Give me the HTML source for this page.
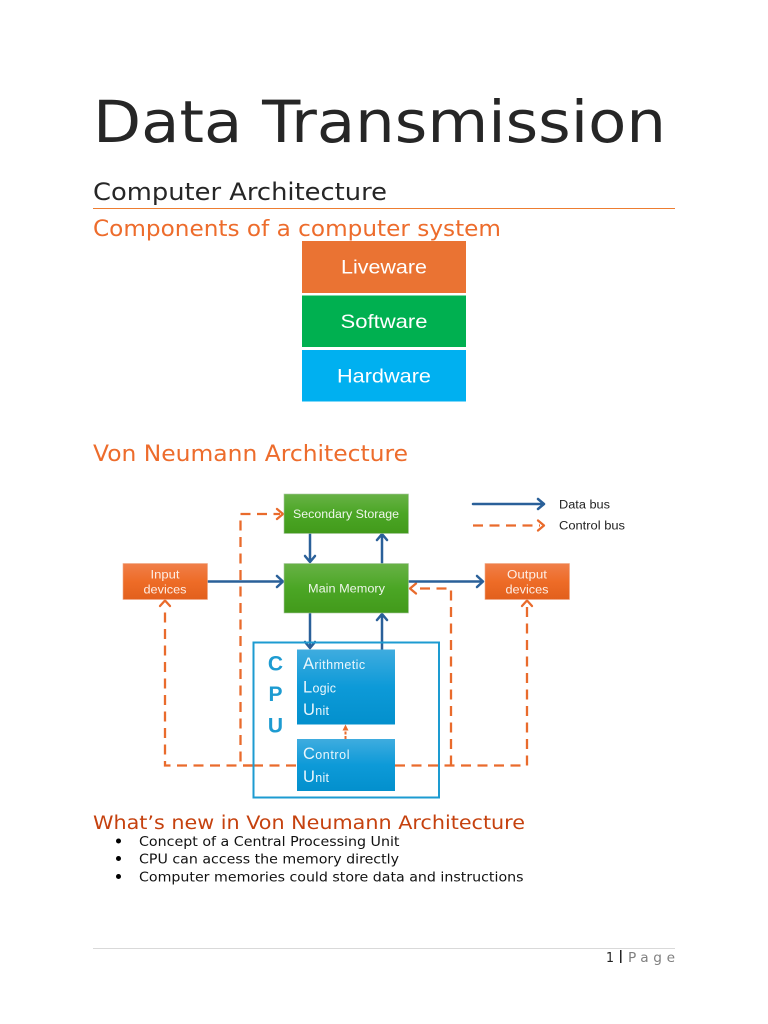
<!DOCTYPE html>
<html>
<head>
<meta charset="utf-8">
<title>Data Transmission</title>
<style>
html,body{margin:0;padding:0;background:#fff}
svg{display:block}
.d{font-family:"DejaVu Sans",sans-serif}
.l{font-family:"Liberation Sans",sans-serif}
</style>
</head>
<body>
<svg width="768" height="1024" viewBox="0 0 768 1024" xmlns="http://www.w3.org/2000/svg">
<defs>
<linearGradient id="g" x1="0" y1="0" x2="0" y2="1"><stop offset="0" stop-color="#68b246"/><stop offset=".5" stop-color="#4ba625"/><stop offset="1" stop-color="#429a1b"/></linearGradient>
<linearGradient id="o" x1="0" y1="0" x2="0" y2="1"><stop offset="0" stop-color="#f07f4a"/><stop offset=".5" stop-color="#ee6c27"/><stop offset="1" stop-color="#e2601d"/></linearGradient>
<linearGradient id="b" x1="0" y1="0" x2="0" y2="1"><stop offset="0" stop-color="#3facdf"/><stop offset=".5" stop-color="#0d9ad8"/><stop offset="1" stop-color="#0390cd"/></linearGradient>
</defs>

<text class="d" x="93" y="142" font-size="58" fill="#262626" textLength="573" lengthAdjust="spacingAndGlyphs">Data Transmission</text>
<text class="d" x="93" y="200" font-size="23.7" fill="#262626" textLength="294" lengthAdjust="spacingAndGlyphs">Computer Architecture</text>
<line x1="93" y1="208.5" x2="675" y2="208.5" stroke="#ed7d31" stroke-width="1"/>
<text class="d" x="93" y="236" font-size="22" fill="#ed6c2c" textLength="408" lengthAdjust="spacingAndGlyphs">Components of a computer system</text>

<rect x="302" y="241" width="164" height="52" fill="#ea7333"/>
<rect x="302" y="295.500" width="164" height="51.500" fill="#00b050"/>
<rect x="302" y="350" width="164" height="51.500" fill="#00b0f0"/>
<g class="l" font-size="19.500" fill="#fff" text-anchor="middle">
<text x="384" y="273.500" textLength="86" lengthAdjust="spacingAndGlyphs">Liveware</text>
<text x="384" y="328" textLength="87" lengthAdjust="spacingAndGlyphs">Software</text>
<text x="384" y="382.500" textLength="94" lengthAdjust="spacingAndGlyphs">Hardware</text>
</g>

<text class="d" x="93" y="461" font-size="22" fill="#ed6c2c" textLength="315" lengthAdjust="spacingAndGlyphs">Von Neumann Architecture</text>

<!-- dashed control -->
<g fill="none" stroke="#e96b2c" stroke-width="2.300" stroke-dasharray="10 6.500">
<path d="M253 765.500H165V606"/>
<path d="M253 765.500H240.500V514H280"/>
<path d="M253 765.500H297"/>
<path d="M395 765.500H527V606"/>
<path d="M451 765.500V588.500H414"/>
<path d="M473 525.500H540"/>
</g>
<g fill="none" stroke="#e96b2c" stroke-width="2.300" stroke-linecap="round" stroke-linejoin="round">
<path d="M277 509L283 514L277 519"/>
<path d="M160 606L165 600.500L170 606"/>
<path d="M522 606L527 600.500L532 606"/>
<path d="M416 583.500L410 588.500L416 593.500"/>
<path d="M538 520.500L544 525.500L538 530.500"/>
</g>

<!-- data -->
<g fill="none" stroke="#2a6099" stroke-width="2.500" stroke-linejoin="round" stroke-linecap="round">
<path d="M207 581.500H282M277 576L283 581.500L277 587"/>
<path d="M408 581.500H482M477 576L483 581.500L477 587"/>
<path d="M310 533V561M305 556L310 562L315 556"/>
<path d="M382 563V535M377 540L382 534L387 540"/>
<path d="M310 613V647M305 642L310 648L315 642"/>
<path d="M382 650V615M377 620L382 614L387 620"/>
<path d="M473 504H544M538 499L544 504L538 509"/>
</g>

<!-- boxes -->
<rect x="284" y="494" width="124.500" height="39.500" fill="url(#g)" stroke="#a9c7a0" stroke-width=".6"/>
<rect x="284" y="563.500" width="124.500" height="49.500" fill="url(#g)" stroke="#a9c7a0" stroke-width=".6"/>
<rect x="123" y="563.500" width="84.500" height="36" fill="url(#o)" stroke="#f0a987" stroke-width=".6"/>
<rect x="485" y="563.500" width="84.500" height="36" fill="url(#o)" stroke="#f0a987" stroke-width=".6"/>

<rect x="253.500" y="642.500" width="185.500" height="155" fill="none" stroke="#1d9bd1" stroke-width="2"/>
<rect x="297" y="649.500" width="98" height="75" fill="url(#b)"/>
<rect x="297" y="739" width="98" height="52" fill="url(#b)"/>

<path d="M345.500 739V730" stroke="#e96b2c" stroke-width="2" stroke-dasharray="3 1.500" fill="none"/>
<path d="M342.500 730.500L345.500 724.500L348.500 730.500Z" fill="#e96b2c"/>

<g class="l" fill="#eef6ea" font-size="11.500" text-anchor="middle">
<text x="346" y="518" textLength="106" lengthAdjust="spacingAndGlyphs">Secondary Storage</text>
<text x="346.500" y="592.500" textLength="77" lengthAdjust="spacingAndGlyphs">Main Memory</text>
</g>
<g class="l" fill="#fdeee6" font-size="11.500" text-anchor="middle">
<text x="165" y="578.500" textLength="29" lengthAdjust="spacingAndGlyphs">Input</text>
<text x="165" y="593.500" textLength="43" lengthAdjust="spacingAndGlyphs">devices</text>
<text x="527" y="578.500" textLength="40" lengthAdjust="spacingAndGlyphs">Output</text>
<text x="527" y="593.500" textLength="43" lengthAdjust="spacingAndGlyphs">devices</text>
</g>

<g class="l" font-size="11.500" fill="#222">
<text x="559" y="508.500" textLength="51" lengthAdjust="spacingAndGlyphs">Data bus</text>
<text x="559" y="529.500" textLength="66" lengthAdjust="spacingAndGlyphs">Control bus</text>
</g>

<g class="l" font-size="21" font-weight="bold" fill="#1d9bd1" text-anchor="middle">
<text x="275.500" y="670.500">C</text>
<text x="275.500" y="701">P</text>
<text x="275.500" y="732.500">U</text>
</g>

<g class="l" fill="#eaf6fc" font-size="12.500">
<text x="303" y="669"><tspan font-size="16.500">A</tspan><tspan dx=".3" letter-spacing=".45">rithmetic</tspan></text>
<text x="303" y="692.500"><tspan font-size="16.500">L</tspan><tspan dx=".3" letter-spacing=".2">ogic</tspan></text>
<text x="303" y="715"><tspan font-size="16.500">U</tspan><tspan dx=".3" letter-spacing=".3">nit</tspan></text>
<text x="303" y="759"><tspan font-size="16.500">C</tspan><tspan dx=".3" letter-spacing=".6">ontrol</tspan></text>
<text x="303" y="782"><tspan font-size="16.500">U</tspan><tspan dx=".3" letter-spacing=".3">nit</tspan></text>
</g>

<text class="d" x="93" y="829" font-size="18.500" fill="#c5410e" textLength="432" lengthAdjust="spacingAndGlyphs">What’s new in Von Neumann Architecture</text>

<g fill="#000">
<circle cx="118.500" cy="841" r="2.500"/>
<circle cx="118.500" cy="858.500" r="2.500"/>
<circle cx="118.500" cy="876.500" r="2.500"/>
</g>
<g class="d" font-size="13.700" fill="#111">
<text x="139" y="846" textLength="260.500" lengthAdjust="spacingAndGlyphs">Concept of a Central Processing Unit</text>
<text x="139" y="863.500" textLength="260" lengthAdjust="spacingAndGlyphs">CPU can access the memory directly</text>
<text x="139" y="881.500" textLength="384.500" lengthAdjust="spacingAndGlyphs">Computer memories could store data and instructions</text>
</g>

<line x1="93" y1="948.500" x2="675" y2="948.500" stroke="#d9d9d9" stroke-width="1"/>
<text class="d" x="606" y="962" font-size="13.700" textLength="8" lengthAdjust="spacingAndGlyphs" fill="#222">1</text>
<rect x="620" y="950" width="1.500" height="13" fill="#222"/>
<text class="d" x="628" y="962" font-size="13.700" fill="#808080" textLength="47" lengthAdjust="spacing">Page</text>
</svg>
</body>
</html>
